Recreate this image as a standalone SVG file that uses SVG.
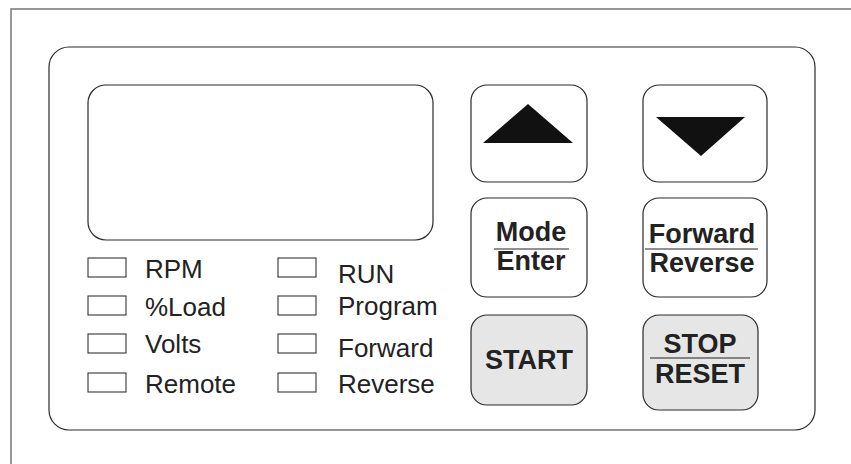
<svg xmlns="http://www.w3.org/2000/svg" width="851" height="464" viewBox="0 0 851 464">
<style>
.ln{fill:none;stroke:#2a2a2a;stroke-width:1.2}
.btn{fill:#fff;stroke:#2a2a2a;stroke-width:1.2}
.btng{fill:#e6e6e6;stroke:#2a2a2a;stroke-width:1.2}
.led{fill:#fff;stroke:#333;stroke-width:1.1}
.lbl{font-family:"Liberation Sans",Arial,sans-serif;font-size:26px;fill:#222}
.bl{font-family:"Liberation Sans",Arial,sans-serif;font-size:27px;font-weight:bold;fill:#222;text-anchor:middle}
.sep{stroke:#222;stroke-width:1.2}
</style>
<rect width="851" height="464" fill="#fff"/>
<g id="frame"><path d="M11,464 V9 H851" fill="none" stroke="#777" stroke-width="1.5"/></g>
<g id="panel"><rect class="ln" x="49" y="47" width="766" height="383" rx="20"/></g>
<g id="display"><rect class="ln" x="88" y="85" width="345" height="155" rx="18"/></g>
<g id="leds">
<rect class="led" x="88" y="258" width="38" height="19"/><text class="lbl" x="145" y="278">RPM</text>
<rect class="led" x="88" y="296" width="38" height="19"/><text class="lbl" x="145" y="316">%Load</text>
<rect class="led" x="88" y="334" width="38" height="19"/><text class="lbl" x="145" y="353">Volts</text>
<rect class="led" x="88" y="373" width="38" height="19"/><text class="lbl" x="145" y="393">Remote</text>
<rect class="led" x="278" y="258" width="38" height="19"/><text class="lbl" x="338" y="283">RUN</text>
<rect class="led" x="278" y="296" width="38" height="19"/><text class="lbl" x="338" y="315">Program</text>
<rect class="led" x="278" y="334" width="38" height="19"/><text class="lbl" x="338" y="357">Forward</text>
<rect class="led" x="278" y="373" width="38" height="19"/><text class="lbl" x="338" y="393">Reverse</text>
</g>
<g id="btn-up"><rect class="btn" x="471" y="85" width="116" height="97" rx="16"/><polygon points="528,104 573,143 483,143" fill="#111"/></g>
<g id="btn-down"><rect class="btn" x="643" y="85" width="124" height="97" rx="16"/><polygon points="656,117 745,117 701,156" fill="#111"/></g>
<g id="btn-mode"><rect class="btn" x="471" y="198" width="116" height="99" rx="16"/>
<text class="bl" x="531" y="241">Mode</text><line class="sep" x1="494" y1="249" x2="569" y2="249"/><text class="bl" x="531" y="270">Enter</text></g>
<g id="btn-fwd"><rect class="btn" x="643" y="198" width="124" height="99" rx="16"/>
<text class="bl" x="702" y="243">Forward</text><line class="sep" x1="645" y1="249" x2="758" y2="249"/><text class="bl" x="702" y="272">Reverse</text></g>
<g id="btn-start"><rect class="btng" x="471" y="315" width="116" height="90" rx="16"/><text class="bl" x="529" y="369">START</text></g>
<g id="btn-stop"><rect class="btng" x="643" y="315" width="115" height="95" rx="16"/>
<text class="bl" x="700" y="353">STOP</text><line class="sep" x1="650" y1="358" x2="750" y2="358"/><text class="bl" x="700" y="383">RESET</text></g>
<g id="connectors"/>
</svg>
